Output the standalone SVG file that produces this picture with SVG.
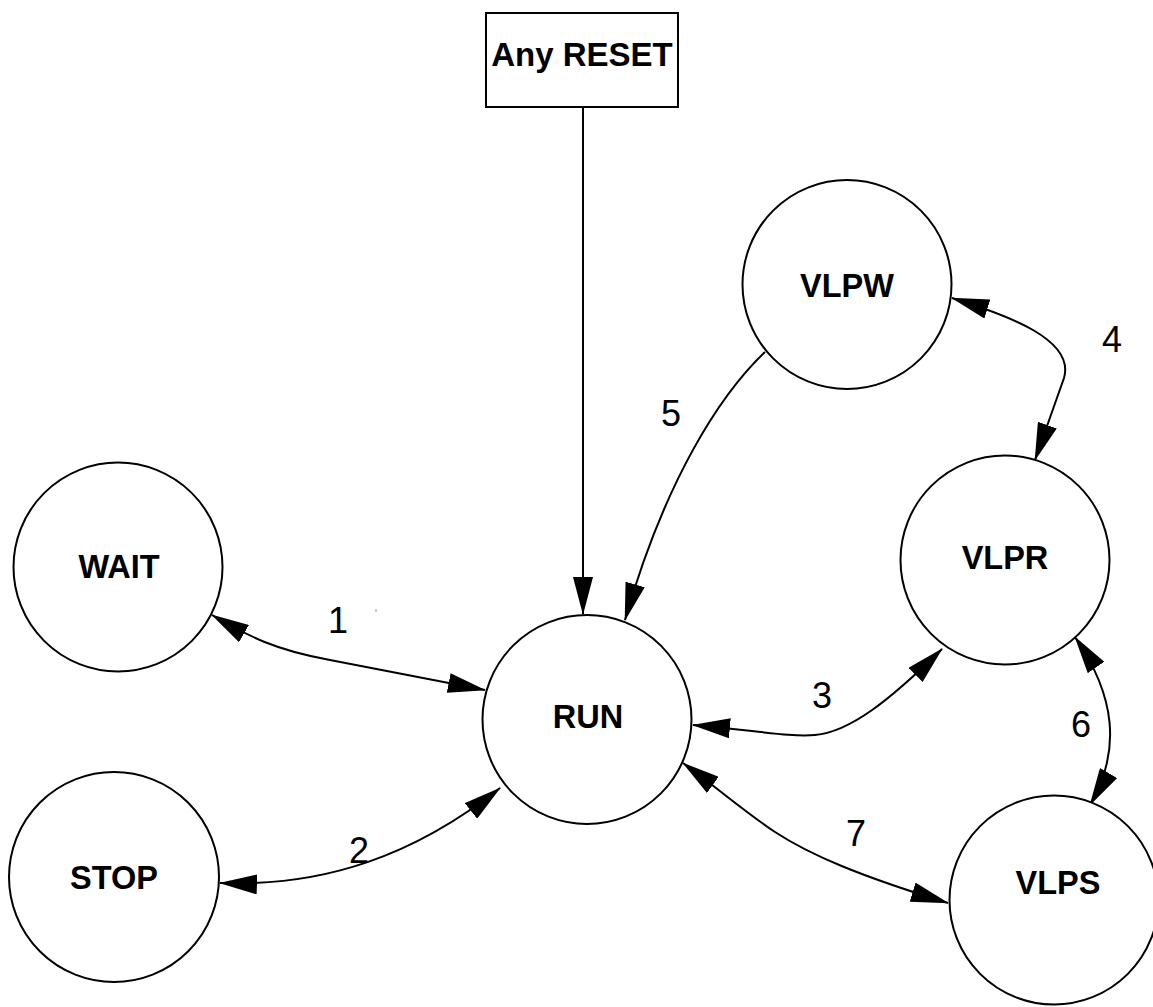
<svg xmlns="http://www.w3.org/2000/svg" width="1153" height="1007" viewBox="0 0 1153 1007">
<style>
.node{fill:#fff;stroke:#000;stroke-width:2}
.nl{font-family:"Liberation Sans",Arial,sans-serif;font-weight:bold;font-size:32.5px;text-anchor:middle;fill:#000}
.el{font-family:"Liberation Sans",Arial,sans-serif;font-size:36px;text-anchor:middle;fill:#000}
.c{fill:none;stroke:#000;stroke-width:2}
.one{marker-end:url(#ah)}
.two{marker-start:url(#ah);marker-end:url(#ah)}
</style>
<defs>
<marker id="ah" viewBox="0 0 38 20" refX="37" refY="10" markerWidth="38" markerHeight="20" markerUnits="userSpaceOnUse" orient="auto-start-reverse">
<path d="M0,0 L38,10 L0,20 z" fill="#000"/>
</marker>
</defs>
<rect width="1153" height="1007" fill="#fff"/>
<g id="connectors">
<path class="c one" d="M583,107 L583,614"/>
<path class="c two" d="M212,615 C250,637 275,650 330,660 L485,690"/>
<path class="c two" d="M220,883 C325,887 415,855 500,788"/>
<path class="c two" d="M693,725 C760,731 790,737 815,735 C850,732 890,700 942,649"/>
<path class="c two" d="M952,298 C1010,316 1075,340 1064,378 L1035,460"/>
<path class="c one" d="M765,352 C720,395 665,480 625,620"/>
<path class="c two" d="M1075,637 C1115,695 1122,750 1090,805"/>
<path class="c two" d="M683,763 C720,790 745,812 775,832 C810,855 860,876 948,903"/>
<path d="M376,609 L376,612" stroke="#999" stroke-width="1"/>
</g>
<g id="edge-labels">
<text class="el" x="338" y="633" font-size="38">1</text>
<text class="el" x="359" y="863">2</text>
<text class="el" x="822" y="708">3</text>
<text class="el" x="1112" y="352">4</text>
<text class="el" x="671" y="426">5</text>
<text class="el" x="1081" y="737">6</text>
<text class="el" x="856" y="846">7</text>
</g>
<g id="reset">
<rect class="node" x="486" y="13" width="192" height="94"/>
<text class="nl" x="582" y="66" style="font-size:33px">Any RESET</text>
</g>
<g id="wait">
<circle class="node" cx="118" cy="567" r="104.5"/>
<text class="nl" x="119" y="578">WAIT</text>
</g>
<g id="stop">
<circle class="node" cx="114" cy="877" r="105"/>
<text class="nl" x="114" y="889">STOP</text>
</g>
<g id="run">
<circle class="node" cx="587" cy="719.5" r="104.5"/>
<text class="nl" x="588" y="728">RUN</text>
</g>
<g id="vlpw">
<circle class="node" cx="847" cy="284.5" r="104.5"/>
<text class="nl" x="847" y="297">VLPW</text>
</g>
<g id="vlpr">
<circle class="node" cx="1005" cy="560" r="104.5"/>
<text class="nl" x="1005" y="569">VLPR</text>
</g>
<g id="vlps">
<circle class="node" cx="1054" cy="900" r="104.5"/>
<text class="nl" x="1058" y="894">VLPS</text>
</g>
</svg>
